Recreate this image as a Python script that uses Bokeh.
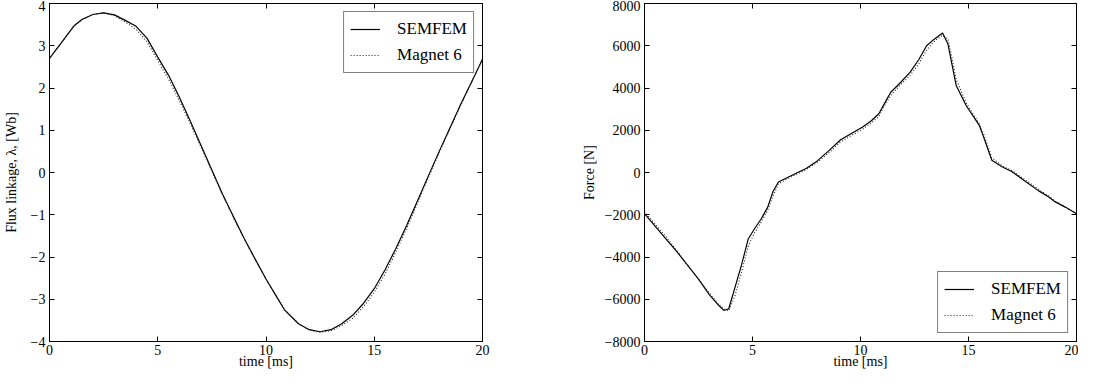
from bokeh.plotting import figure
from bokeh.layouts import row
from bokeh.models import LinearAxis, FixedTicker, Range1d
from bokeh.embed import file_html
from bokeh.resources import INLINE

# ---------------- data ----------------
flux_time = [0, 0.5, 1.0, 1.15, 1.5, 2.0, 2.5, 3.0, 3.5, 4.0, 4.5, 5.0, 5.5, 6.0, 6.5, 7.0,
             7.5, 8.0, 8.5, 9.0, 9.5, 10.0, 10.5, 10.85, 11.5, 12.0, 12.5, 13.0, 13.5, 14.0,
             14.5, 15.0, 15.5, 16.0, 16.5, 17.0, 17.5, 18.0, 18.5, 19.0, 19.5, 20.0]
flux_semfem = [2.70, 3.04, 3.38, 3.48, 3.62, 3.74, 3.78, 3.73, 3.60, 3.46, 3.18, 2.73, 2.30,
               1.78, 1.22, 0.64, 0.06, -0.52, -1.05, -1.57, -2.05, -2.52, -2.95, -3.25, -3.58,
               -3.72, -3.77, -3.72, -3.58, -3.38, -3.10, -2.75, -2.30, -1.80, -1.25, -0.67,
               -0.08, 0.50, 1.06, 1.62, 2.15, 2.68]
flux_magnet = [2.70, 3.04, 3.37, 3.47, 3.62, 3.74, 3.78, 3.71, 3.56, 3.39, 3.10, 2.65, 2.21,
               1.70, 1.16, 0.60, 0.03, -0.54, -1.07, -1.58, -2.06, -2.52, -2.94, -3.23, -3.58,
               -3.73, -3.78, -3.75, -3.62, -3.45, -3.18, -2.84, -2.40, -1.88, -1.32, -0.72,
               -0.12, 0.47, 1.04, 1.60, 2.14, 2.68]

force_time = [0, 0.5, 1.0, 1.5, 2.0, 2.5, 3.0, 3.4, 3.67, 3.9, 4.2, 4.5, 4.8, 5.1, 5.4, 5.7,
              5.95, 6.2, 6.6, 7.0, 7.5, 8.0, 8.5, 9.08, 9.5, 10.1, 10.5, 10.85, 11.1, 11.4,
              11.8, 12.3, 12.7, 13.06, 13.4, 13.8, 14.05, 14.2, 14.43, 14.89, 15.5, 15.73,
              16.08, 16.57, 17.0, 17.56, 18.25, 18.7, 19.0, 19.5, 20.0]
force_semfem = [-1950, -2550, -3150, -3750, -4400, -5050, -5780, -6250, -6530, -6450, -5400,
                -4350, -3150, -2650, -2200, -1650, -900, -450, -250, -50, 200, 550, 1000,
                1550, 1800, 2150, 2450, 2780, 3250, 3800, 4200, 4750, 5350, 6000, 6300, 6600,
                6080, 5300, 4120, 3170, 2230, 1600, 580, 260, 50, -370, -870, -1150, -1380,
                -1650, -1950]
force_magnet = [-1850, -2450, -3050, -3700, -4400, -5050, -5700, -6200, -6450, -6550, -5800,
                -4700, -3500, -2850, -2350, -1800, -1100, -550, -300, -100, 150, 480, 900,
                1450, 1700, 2050, 2350, 2650, 3150, 3650, 4100, 4600, 5150, 5800, 6200, 6500,
                6300, 5600, 4400, 3300, 2300, 1750, 700, 300, 100, -300, -800, -1100, -1350,
                -1650, -1950]

x_ticks = [0, 5, 10, 15, 20]
flux_ticks = [-4, -3, -2, -1, 0, 1, 2, 3, 4]
flux_labels = ["\u22124", "\u22123", "\u22122", "\u22121", "0", "1", "2", "3", "4"]
force_ticks = [-8000, -6000, -4000, -2000, 0, 2000, 4000, 6000, 8000]
force_labels = ["\u22128000", "\u22126000", "\u22124000", "\u22122000", "0", "2000", "4000",
                "6000", "8000"]

series_names = ["SEMFEM", "Magnet 6"]

FONT = "Liberation Serif"


def style_axis(ax, ticks, labels=None, show_labels=True, standoff=4):
    ax.ticker = FixedTicker(ticks=ticks)
    ax.minor_tick_line_color = None
    ax.major_tick_in = 5
    ax.major_tick_out = 0
    ax.major_tick_line_color = "black"
    ax.axis_line_color = "black"
    ax.axis_line_width = 1
    if labels is not None:
        ax.major_label_overrides = {t: l for t, l in zip(ticks, labels)}
    if show_labels:
        ax.major_label_text_font = FONT
        ax.major_label_text_font_size = "14px"
        ax.major_label_text_color = "black"
        ax.major_label_standoff = standoff
    else:
        ax.major_label_text_color = None
        ax.major_label_text_font_size = "1px"
        ax.major_label_standoff = 0


def make_fig(width, border_left, border_right, xs, s1, s2, yr, yticks, ylabels, ylabel,
             legend_loc, ylabel_standoff):
    p = figure(width=width, height=371, output_backend="svg", toolbar_location=None,
               x_range=Range1d(0, 20), y_range=Range1d(*yr),
               min_border_left=border_left, min_border_right=border_right,
               min_border_top=3, min_border_bottom=10)
    p.grid.visible = False
    p.outline_line_color = "black"
    p.background_fill_color = "white"
    p.border_fill_color = "white"

    style_axis(p.xaxis[0], x_ticks, standoff=3)
    style_axis(p.yaxis[0], yticks, ylabels, standoff=4)
    p.xaxis[0].axis_label = "time [ms]"
    p.xaxis[0].axis_label_standoff = -4
    p.yaxis[0].axis_label = ylabel
    p.yaxis[0].axis_label_standoff = ylabel_standoff
    for ax in (p.xaxis[0], p.yaxis[0]):
        ax.axis_label_text_font = FONT
        ax.axis_label_text_font_size = "14px"
        ax.axis_label_text_font_style = "normal"
        ax.axis_label_text_color = "black"

    top = LinearAxis()
    style_axis(top, x_ticks, show_labels=False)
    p.add_layout(top, "above")
    right = LinearAxis()
    style_axis(right, yticks, show_labels=False)
    p.add_layout(right, "right")

    p.line(xs, s1, line_color="black", line_width=1.2, legend_label=series_names[0])
    p.line(xs, s2, line_color="#222222", line_width=1.1, line_dash="1 2",
           legend_label=series_names[1])

    lg = p.legend[0]
    lg.location = legend_loc
    lg.margin = 8
    lg.padding = 6
    lg.spacing = 4
    lg.glyph_width = 30
    lg.glyph_height = 22
    lg.label_height = 22
    lg.label_standoff = 17
    lg.label_text_font = FONT
    lg.label_text_font_size = "17px"
    lg.label_text_color = "black"
    lg.border_line_color = "black"
    lg.border_line_width = 1
    lg.background_fill_color = "white"
    lg.background_fill_alpha = 1
    return p


p1 = make_fig(560, 45, 78, flux_time, flux_semfem, flux_magnet, (-4, 4), flux_ticks,
              flux_labels, "Flux linkage, \u03bb, [Wb]", "top_right", 9)
p2 = make_fig(518, 84, 2, force_time, force_semfem, force_magnet, (-8000, 8000), force_ticks,
              force_labels, "Force [N]", "bottom_right", 5)

layout = row(p1, p2)
open("out.html", "w").write(file_html(layout, INLINE))
